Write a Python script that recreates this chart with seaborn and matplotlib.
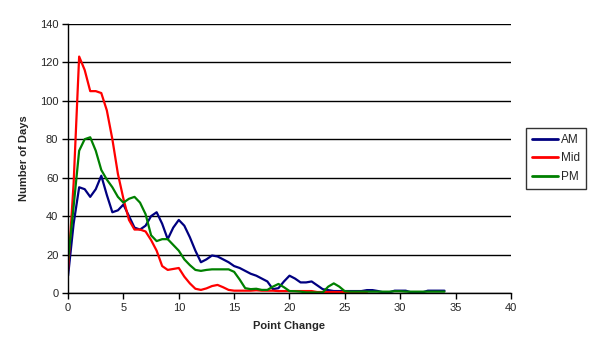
import numpy as np
import pandas as pd
import matplotlib
matplotlib.use('Agg')
import matplotlib.pyplot as plt
import seaborn as sns

# point change (x) every half point
point_change = [i * 0.5 for i in range(69)]  # 0 ... 34

am = [9, 36, 55, 54, 50, 54, 61, 51, 42, 43,
      46, 40, 34, 33, 35, 40, 42, 36, 28, 34,
      38, 35, 29, 22, 16, 17.5, 19.5, 19, 17.5, 16,
      14, 13, 11.5, 10, 9, 7.5, 6, 2, 2.5, 6,
      9, 7.5, 5.5, 5.5, 6, 4, 2, 1.5, 1, 1,
      1, 1, 1, 1, 1.5, 1.5, 1, 0.3, 0.3, 1.2,
      1.2, 1.2, 0.3, 0.3, 0.3, 1.2, 1.2, 1.2, 1.2]

mid = [12, 57, 123, 116, 105, 105, 104, 95, 80, 62,
       49, 38, 33, 33, 32, 27.5, 22, 14, 12, 12.5,
       13, 8.5, 5, 2.2, 1.6, 2.4, 3.6, 4.2, 3, 1.6,
       1.2, 1.2, 1.2, 1.2, 1.4, 1.2, 1.2, 1.2, 1, 1,
       1, 1, 1, 1, 1, 0.5, 0.5, 0.5, 0.5, 0.5,
       0.5, 0.5, 0.5, 0.5, 0.5, np.nan, np.nan, np.nan, np.nan, np.nan,
       np.nan, np.nan, np.nan, np.nan, np.nan, np.nan, np.nan, np.nan, np.nan]

pm = [17, 45, 74, 80, 81, 74, 64, 59, 55, 50,
      47, 49, 50, 47, 41, 30, 27, 28, 28, 25,
      22, 17.5, 14.5, 12, 11.5, 12, 12.3, 12.3, 12.3, 12.3,
      11, 7, 2.5, 2, 2.2, 1.6, 1.6, 3.3, 4.7, 3,
      1, 0.9, 0.7, 0.3, 0.3, 0.3, 0.3, 3.3, 5, 3.3,
      0.9, 0.7, 0.7, 0.7, 0.7, 0.7, 0.7, 0.7, 0.7, 0.9,
      0.9, 0.7, 0.7, 0.7, 0.7, 0.7, 0.7, 0.7, 0.7]

series_names = ['AM', 'Mid', 'PM']
colors = {'AM': '#000080', 'Mid': '#FF0000', 'PM': '#008000'}

df = pd.DataFrame({
    'Point Change': point_change * 3,
    'Number of Days': am + mid + pm,
    'Session': ['AM'] * 69 + ['Mid'] * 69 + ['PM'] * 69,
})

sns.set_style('white')
plt.rcParams['font.family'] = ['Liberation Sans', 'DejaVu Sans']

fig = plt.figure(figsize=(5.92, 3.56), dpi=100)
ax = fig.add_axes([0.115, 0.177, 0.748, 0.756])

sns.lineplot(data=df, x='Point Change', y='Number of Days', hue='Session',
             hue_order=series_names, palette=colors, linewidth=1.6, ax=ax,
             legend=False)

ax.set_xlim(0, 40)
ax.set_ylim(0, 140)
ax.set_xticks(range(0, 41, 5))
ax.set_yticks(range(0, 141, 20))
ax.yaxis.grid(True, color='black', linewidth=1)
ax.set_axisbelow(True)
for s in ['top', 'right']:
    ax.spines[s].set_visible(False)
for s in ['left', 'bottom']:
    ax.spines[s].set_color('black')
    ax.spines[s].set_linewidth(1)
ax.tick_params(axis='both', direction='out', length=4, width=1, color='black',
               labelsize=8, pad=3, left=True, bottom=True)
ax.set_xlabel('Point Change', fontsize=8, fontweight='bold', labelpad=6)
ax.set_ylabel('Number of Days', fontsize=8, fontweight='bold', labelpad=8)

handles = [plt.Line2D([], [], color=colors[n], linewidth=2) for n in series_names]
leg = fig.legend(handles, series_names, loc='center', bbox_to_anchor=(0.939, 0.555),
                 fontsize=8.5, frameon=True, fancybox=False, edgecolor='black',
                 handlelength=2.2, handletextpad=0.3, labelspacing=0.55,
                 borderpad=0.5)
leg.get_frame().set_linewidth(1)

fig.savefig('out.png', dpi=100)
